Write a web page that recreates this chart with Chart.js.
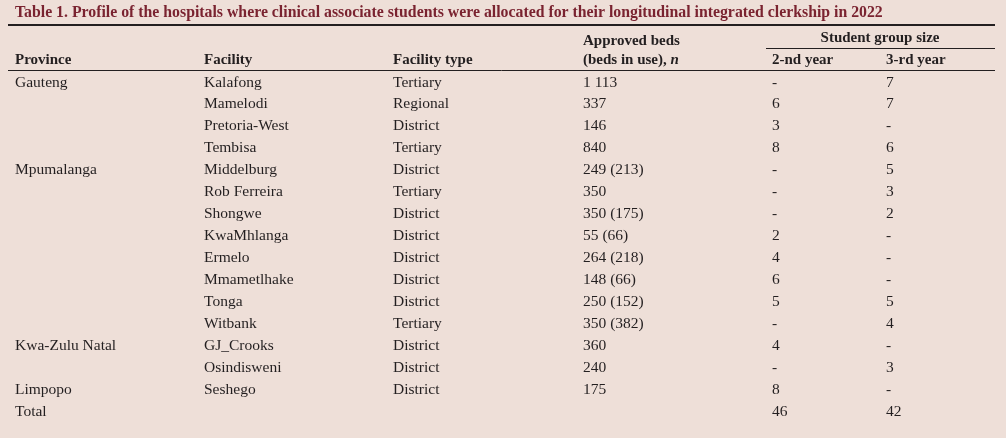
<!DOCTYPE html>
<html lang="en">
<head>
  <meta charset="UTF-8" />
  <title>Table 1. Hospital profile</title>
  <script src="https://cdn.jsdelivr.net/npm/chart.js"></script>
  <style>
    html, body {
      margin: 0;
      padding: 0;
      background-color: #eedfd8;
    }
    .wrap {
      position: relative;
      width: 1006px;
      height: 438px;
    }
  </style>
</head>
<body>
  <div class="wrap">
    <canvas id="tableChart"></canvas>
  </div>

  <script>
    const title = "Table 1. Profile of the hospitals where clinical associate students were allocated for their longitudinal integrated clerkship in 2022";

    const provinces = ["Gauteng", "", "", "", "Mpumalanga", "", "", "", "", "", "", "", "Kwa-Zulu Natal", "", "Limpopo", "Total"];
    const facilities = ["Kalafong", "Mamelodi", "Pretoria-West", "Tembisa", "Middelburg", "Rob Ferreira", "Shongwe", "KwaMhlanga", "Ermelo", "Mmametlhake", "Tonga", "Witbank", "GJ_Crooks", "Osindisweni", "Seshego", ""];
    const facilityTypes = ["Tertiary", "Regional", "District", "Tertiary", "District", "Tertiary", "District", "District", "District", "District", "District", "Tertiary", "District", "District", "District", ""];
    const approvedBeds = ["1 113", "337", "146", "840", "249 (213)", "350", "350 (175)", "55 (66)", "264 (218)", "148 (66)", "250 (152)", "350 (382)", "360", "240", "175", ""];
    const secondYear = ["-", "6", "3", "8", "-", "-", "-", "2", "4", "6", "5", "-", "4", "-", "8", "46"];
    const thirdYear = ["7", "7", "-", "6", "5", "3", "2", "-", "-", "-", "5", "4", "-", "3", "-", "42"];

    const columns = [provinces, facilities, facilityTypes, approvedBeds, secondYear, thirdYear];

    // layout only: left edge of each column on the x scale (px units)
    const COL_X = [15, 204, 393, 583, 772, 886];

    const serif = '"Liberation Serif", "DejaVu Serif", serif';
    const textColor = "#231f20";
    const titleColor = "#7a2330";

    const tablePlugin = {
      id: "tableText",
      afterDatasetsDraw(chart) {
        const ctx = chart.ctx;
        const xs = chart.scales.x;
        const area = chart.chartArea;
        ctx.save();

        // cells
        ctx.fillStyle = textColor;
        ctx.font = "15.5px " + serif;
        ctx.textAlign = "left";
        ctx.textBaseline = "middle";
        chart.data.datasets.forEach((ds, i) => {
          const meta = chart.getDatasetMeta(i);
          meta.data.forEach((pt, j) => {
            const txt = ds.labels[j];
            if (txt) ctx.fillText(txt, pt.x, pt.y);
          });
        });

        // title
        ctx.fillStyle = titleColor;
        ctx.font = "bold 15.8px " + serif;
        ctx.fillText(title, 15, 12.5);

        // headers
        ctx.fillStyle = textColor;
        ctx.font = "bold 15px " + serif;
        const hy = area.top - 11;
        ctx.fillText("Province", xs.getPixelForValue(COL_X[0]), hy);
        ctx.fillText("Facility", xs.getPixelForValue(COL_X[1]), hy);
        ctx.fillText("Facility type", xs.getPixelForValue(COL_X[2]), hy);
        ctx.fillText("Approved beds", xs.getPixelForValue(COL_X[3]), hy - 19);
        const bx = xs.getPixelForValue(COL_X[3]);
        const part = "(beds in use), ";
        ctx.fillText(part, bx, hy);
        const w = ctx.measureText(part).width;
        ctx.font = "bold italic 15px " + serif;
        ctx.fillText("n", bx + w, hy);
        ctx.font = "bold 15px " + serif;
        ctx.fillText("2-nd year", xs.getPixelForValue(COL_X[4]), hy);
        ctx.fillText("3-rd year", xs.getPixelForValue(COL_X[5]), hy);
        ctx.textAlign = "center";
        ctx.fillText("Student group size", 880, hy - 22);

        // rules
        ctx.strokeStyle = "#231f20";
        ctx.lineWidth = 2;
        ctx.beginPath();
        ctx.moveTo(8, 25);
        ctx.lineTo(995, 25);
        ctx.stroke();
        ctx.lineWidth = 1;
        ctx.beginPath();
        ctx.moveTo(766, 48.5);
        ctx.lineTo(995, 48.5);
        ctx.moveTo(8, 70.5);
        ctx.lineTo(995, 70.5);
        ctx.stroke();

        ctx.restore();
      }
    };

    const datasets = columns.map((col, i) => ({
      labels: col,
      data: col.map((_, j) => ({ x: COL_X[i], y: j })),
      pointRadius: 0,
      pointHoverRadius: 0
    }));

    new Chart(document.getElementById("tableChart"), {
      type: "scatter",
      data: { datasets },
      options: {
        responsive: true,
        maintainAspectRatio: false,
        animation: false,
        events: [],
        layout: { padding: { top: 71.5, bottom: 15.5, left: 0, right: 0 } },
        plugins: {
          legend: { display: false },
          tooltip: { enabled: false }
        },
        scales: {
          x: { type: "linear", min: 0, max: 1006, display: false },
          y: { type: "linear", min: -0.5, max: 15.5, reverse: true, display: false }
        }
      },
      plugins: [tablePlugin]
    });
  </script>
</body>
</html>
